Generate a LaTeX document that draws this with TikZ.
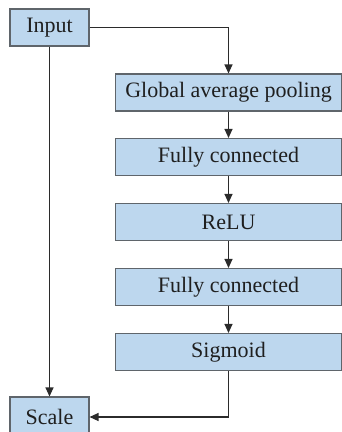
\documentclass[tikz,border=0pt]{standalone}
\usepackage{fontspec}
\setmainfont{Liberation Serif}
\usetikzlibrary{arrows.meta}
\definecolor{boxfill}{HTML}{BDD7EE}
\definecolor{boxline}{HTML}{5F656B}
\definecolor{wire}{HTML}{2B2B2B}
\tikzset{
  block/.style={draw=boxline, fill=boxfill, line width=1.1pt, inner sep=0pt,
    font=\fontsize{22}{25}\selectfont, text=black!88},
  smallblock/.style={block, minimum width=79pt, minimum height=37pt},
  wideblock/.style={block, minimum width=226pt, minimum height=37pt},
  flow/.style={draw=wire, line width=1.2pt, -{Triangle[length=9pt,width=8pt]}}
}
\begin{document}
\begin{tikzpicture}[x=1pt,y=1pt]
  \useasboundingbox (0,0) rectangle (342,-432);
  \node[smallblock] (input) at (49.5,-27.5) {Input};
  \node[wideblock] (gap)  at (228.5,-92.5) {Global average pooling};
  \node[wideblock] (fc1)  at (228.5,-157)  {Fully connected};
  \node[wideblock] (relu) at (228.5,-222)  {ReLU};
  \node[wideblock] (fc2)  at (228.5,-287)  {Fully connected};
  \node[wideblock] (sig)  at (228.5,-352)  {Sigmoid};
  \node[smallblock, minimum height=40pt] (scale) at (49.5,-417) {Scale};

  \draw[flow] (input.east) -| (gap.north);
  \draw[flow] (gap) -- (fc1);
  \draw[flow] (fc1) -- (relu);
  \draw[flow] (relu) -- (fc2);
  \draw[flow] (fc2) -- (sig);
  \draw[flow] (sig.south) |- (scale.east);
  \draw[flow] (input) -- (scale);
\end{tikzpicture}
\end{document}
